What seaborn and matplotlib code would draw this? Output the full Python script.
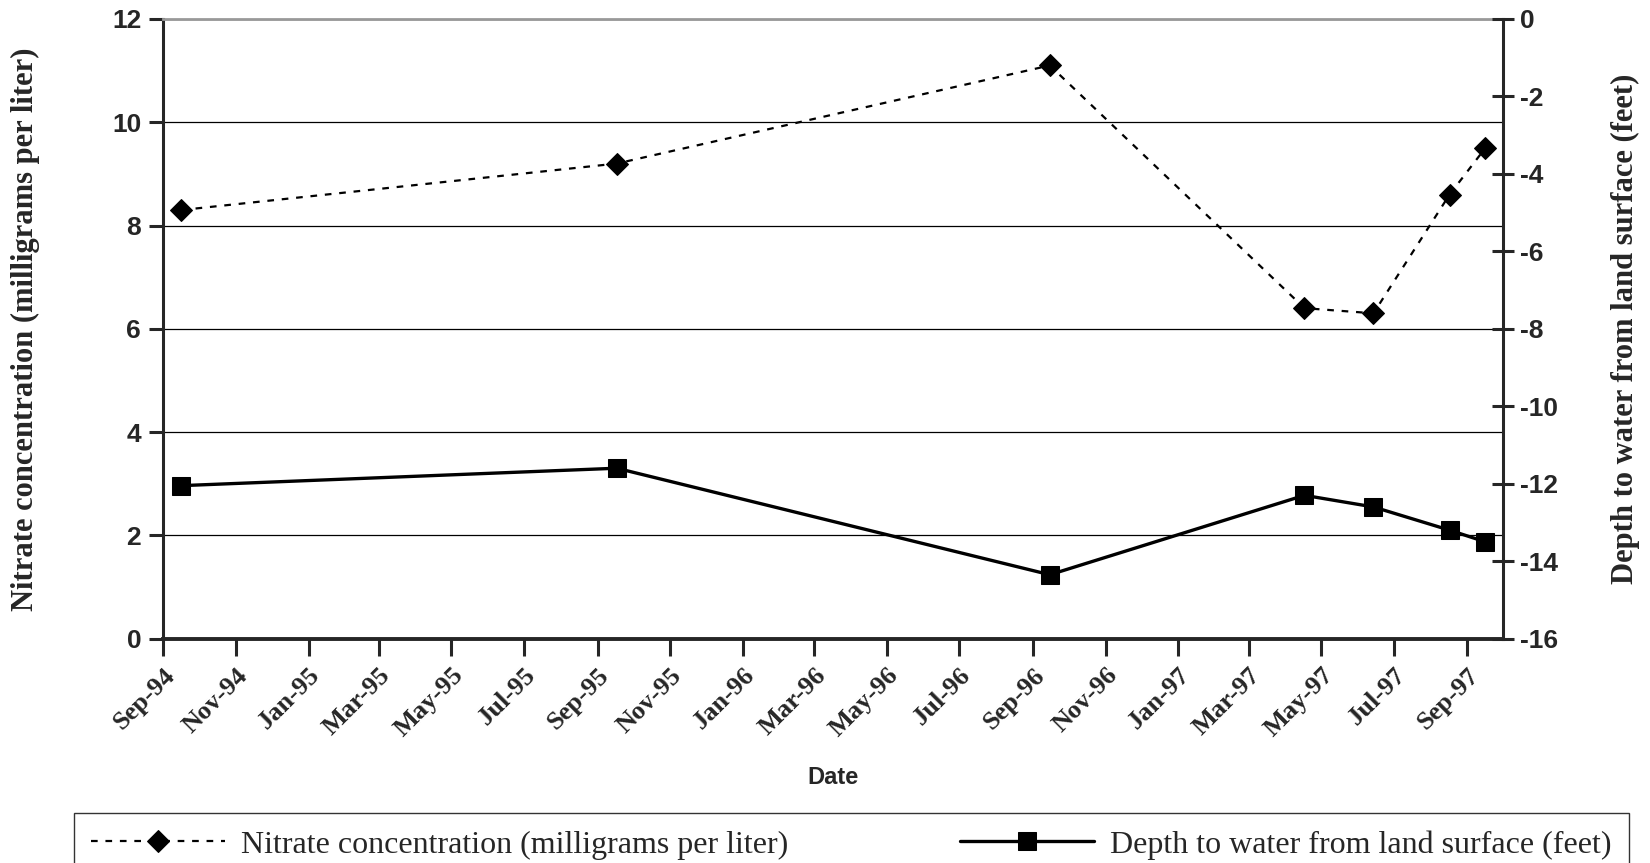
import pandas as pd
import matplotlib.pyplot as plt
import matplotlib.dates as mdates
import seaborn as sns

sample_dates = ["1994-09-16", "1995-09-17", "1996-09-15", "1997-04-17",
                "1997-06-14", "1997-08-17", "1997-09-16"]
nitrate_mg_l = [8.3, 9.2, 11.1, 6.4, 6.3, 8.6, 9.5]
depth_ft = [-12.05, -11.6, -14.35, -12.3, -12.6, -13.2, -13.5]

nitrate_label = "Nitrate concentration (milligrams per liter)"
depth_label = "Depth to water from land surface (feet)"

df = pd.DataFrame({"date": pd.to_datetime(sample_dates),
                   "nitrate": nitrate_mg_l,
                   "depth": depth_ft})

sns.set_style("white")
plt.rcParams["font.family"] = ["Liberation Sans", "DejaVu Sans"]
plt.rcParams["axes.unicode_minus"] = False

fig = plt.figure(figsize=(16.5, 8.63), dpi=100)
ax = fig.add_axes([0.099, 0.26, 0.812, 0.718])
ax2 = ax.twinx()

# nitrate on the left axis
sns.lineplot(data=df, x="date", y="nitrate", ax=ax, color="black",
             linestyle=(0, (3, 3.5)), linewidth=1.6, marker="D", markersize=11,
             markeredgecolor="black", label=nitrate_label, legend=False)
# depth on the right axis
sns.lineplot(data=df, x="date", y="depth", ax=ax2, color="black",
             linewidth=2.4, marker="s", markersize=13,
             markeredgecolor="black", label=depth_label, legend=False)

ax.set_xlim(pd.Timestamp("1994-09-01"), pd.Timestamp("1997-10-01"))
ax.set_ylim(0, 12)
ax2.set_ylim(-16, 0)
ax.set_yticks(range(0, 13, 2))
ax2.set_yticks(range(-16, 1, 2))

ax.xaxis.set_major_locator(mdates.MonthLocator(bymonth=[1, 3, 5, 7, 9, 11]))
ax.xaxis.set_major_formatter(mdates.DateFormatter("%b-%y"))

# gridlines on left axis
ax.grid(axis="y", color="black", linewidth=0.9)
ax.grid(axis="x", visible=False)
ax2.grid(False)
ax.set_axisbelow(True)

for a in (ax, ax2):
    for s in a.spines.values():
        s.set_visible(False)
ax.spines["left"].set_visible(True)
ax.spines["left"].set_linewidth(2.2)
ax.spines["bottom"].set_visible(True)
ax.spines["bottom"].set_linewidth(2.8)
ax2.spines["right"].set_visible(True)
ax2.spines["right"].set_linewidth(2.2)
ax.spines["top"].set_visible(True)
ax.spines["top"].set_color("#999999")
ax.spines["top"].set_linewidth(2)

ax.tick_params(axis="y", direction="out", length=10, width=2.2, left=True,
               labelsize=19, pad=6)
ax.tick_params(axis="x", direction="out", length=12, width=2.2, bottom=True,
               pad=6)
ax2.tick_params(axis="y", direction="inout", length=16, width=2.2, right=True,
                labelsize=19, pad=4)
for t in ax.get_yticklabels() + ax2.get_yticklabels():
    t.set_fontweight("bold")
for t in ax.get_xticklabels():
    t.set_fontfamily("Liberation Serif")
    t.set_fontweight("bold")
    t.set_fontsize(19)
    t.set_rotation(45)
    t.set_ha("right")
    t.set_rotation_mode("anchor")

ax.set_xlabel("Date", fontsize=17, fontweight="bold", labelpad=18)
ax.set_ylabel(nitrate_label, fontsize=22, fontweight="bold",
              fontfamily="Liberation Serif", labelpad=52)
ax2.set_ylabel(depth_label, fontsize=22, fontweight="bold",
               fontfamily="Liberation Serif", rotation=90, labelpad=38)

h1, l1 = ax.get_legend_handles_labels()
h2, l2 = ax2.get_legend_handles_labels()
leg = fig.legend(h1 + h2, l1 + l2, loc="upper left", ncol=2,
                 bbox_to_anchor=(0.0446, -0.05, 0.9426, 0.1085), mode="expand",
                 borderaxespad=0, frameon=True, fancybox=False,
                 edgecolor="black",
                 prop={"family": "Liberation Serif", "size": 23},
                 handlelength=4.2, handletextpad=0.5, columnspacing=3,
                 borderpad=0.55)
leg.get_frame().set_linewidth(1)

fig.savefig("out.png", dpi=100)
